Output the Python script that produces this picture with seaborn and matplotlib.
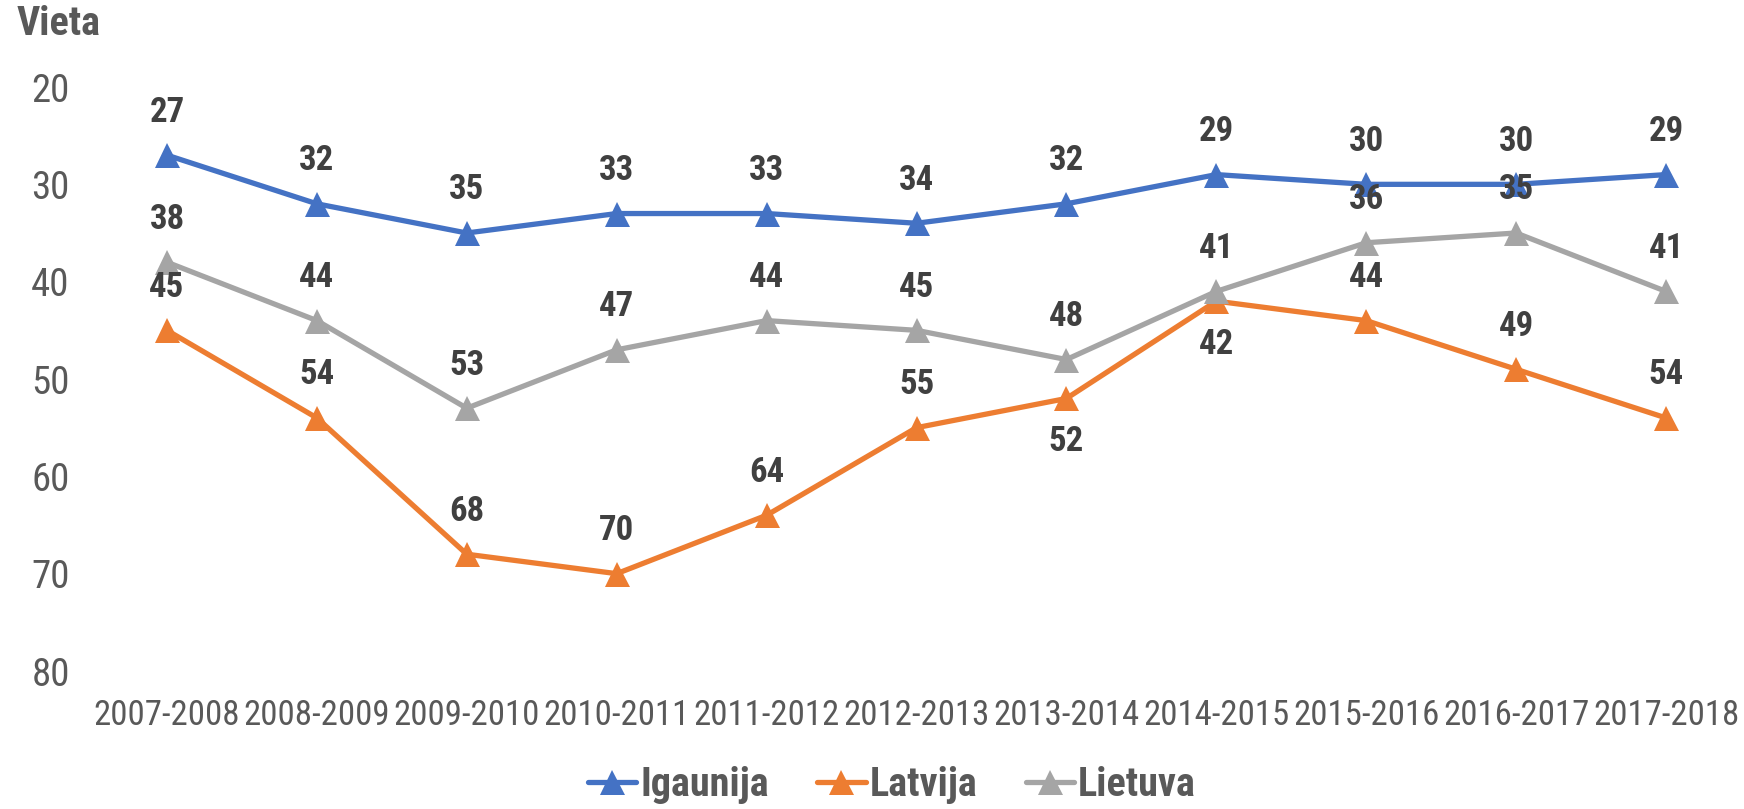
import seaborn as sns
import matplotlib.pyplot as plt
import pandas as pd
from matplotlib import font_manager as fm

# Data
periods = ["2007-2008", "2008-2009", "2009-2010", "2010-2011", "2011-2012", "2012-2013",
           "2013-2014", "2014-2015", "2015-2016", "2016-2017", "2017-2018"]
igaunija = [27, 32, 35, 33, 33, 34, 32, 29, 30, 30, 29]
latvija = [45, 54, 68, 70, 64, 55, 52, 42, 44, 49, 54]
lietuva = [38, 44, 53, 47, 44, 45, 48, 41, 36, 35, 41]
# where a label goes below its point instead of above
latvija_below = ["2013-2014", "2014-2015"]

series = {"Igaunija": igaunija, "Latvija": latvija, "Lietuva": lietuva}
colors = {"Igaunija": "#4472C4", "Latvija": "#ED7D31", "Lietuva": "#A5A5A5"}

rows = []
for name, vals in series.items():
    for i, (p, v) in enumerate(zip(periods, vals)):
        rows.append({"period": p, "idx": i, "country": name, "rank": v})
df = pd.DataFrame(rows)

# narrow font like Arial Narrow, whichever is there
installed = {f.name for f in fm.fontManager.ttflist}
narrow = [n for n in ["Liberation Sans Narrow", "Arial Narrow", "Roboto Condensed",
                      "Fira Sans Condensed", "Barlow Semi Condensed"] if n in installed]
font = narrow[:1] + ["DejaVu Sans"]

sns.set_theme(style="white")
plt.rcParams["font.family"] = font

fig = plt.figure(figsize=(17.44, 8.09), dpi=100)
ax = fig.add_axes([92 / 1744, 1 - 671 / 809, (1741 - 92) / 1744, (671 - 87) / 809])

sns.lineplot(data=df, x="idx", y="rank", hue="country", palette=colors,
             marker="^", markersize=18, markeredgewidth=0, linewidth=3.8,
             dashes=False, ax=ax, legend=False)

# Data labels
for name, vals in series.items():
    for i, v in enumerate(vals):
        below = name == "Latvija" and periods[i] in latvija_below
        ax.annotate(str(v), (i, v), xytext=(0, -31 if below else 31),
                    textcoords="offset points", ha="center", va="center",
                    fontsize=25, fontweight="bold", color="#404040")

ax.set_ylim(80, 20)
ax.set_xlim(-0.5, len(periods) - 0.5)
ax.set_yticks([20, 30, 40, 50, 60, 70, 80])
ax.set_xticks(range(len(periods)))
ax.set_xticklabels(periods)
ax.tick_params(axis="y", length=0, pad=16, labelsize=28, labelcolor="#595959")
ax.tick_params(axis="x", length=0, pad=20, labelsize=25, labelcolor="#595959")
ax.set_xlabel("")
ax.set_ylabel("")
for s in ax.spines.values():
    s.set_visible(False)

fig.text(17 / 1744, 1 - 24 / 809, "Vieta", fontsize=29, fontweight="bold",
         color="#595959", va="center", ha="left")

handles = [plt.Line2D([], [], color=colors[n], marker="^", markersize=18,
                      markeredgewidth=0, linewidth=3.8) for n in series]
leg = fig.legend(handles, list(series.keys()), loc="center",
                 bbox_to_anchor=(892 / 1744, 1 - 785 / 809), ncol=3, frameon=False,
                 handlelength=1.2, handletextpad=0.1, columnspacing=1.2,
                 prop={"family": font, "size": 29, "weight": "bold"})
for t in leg.get_texts():
    t.set_color("#595959")

fig.savefig("out.png", dpi=100)
